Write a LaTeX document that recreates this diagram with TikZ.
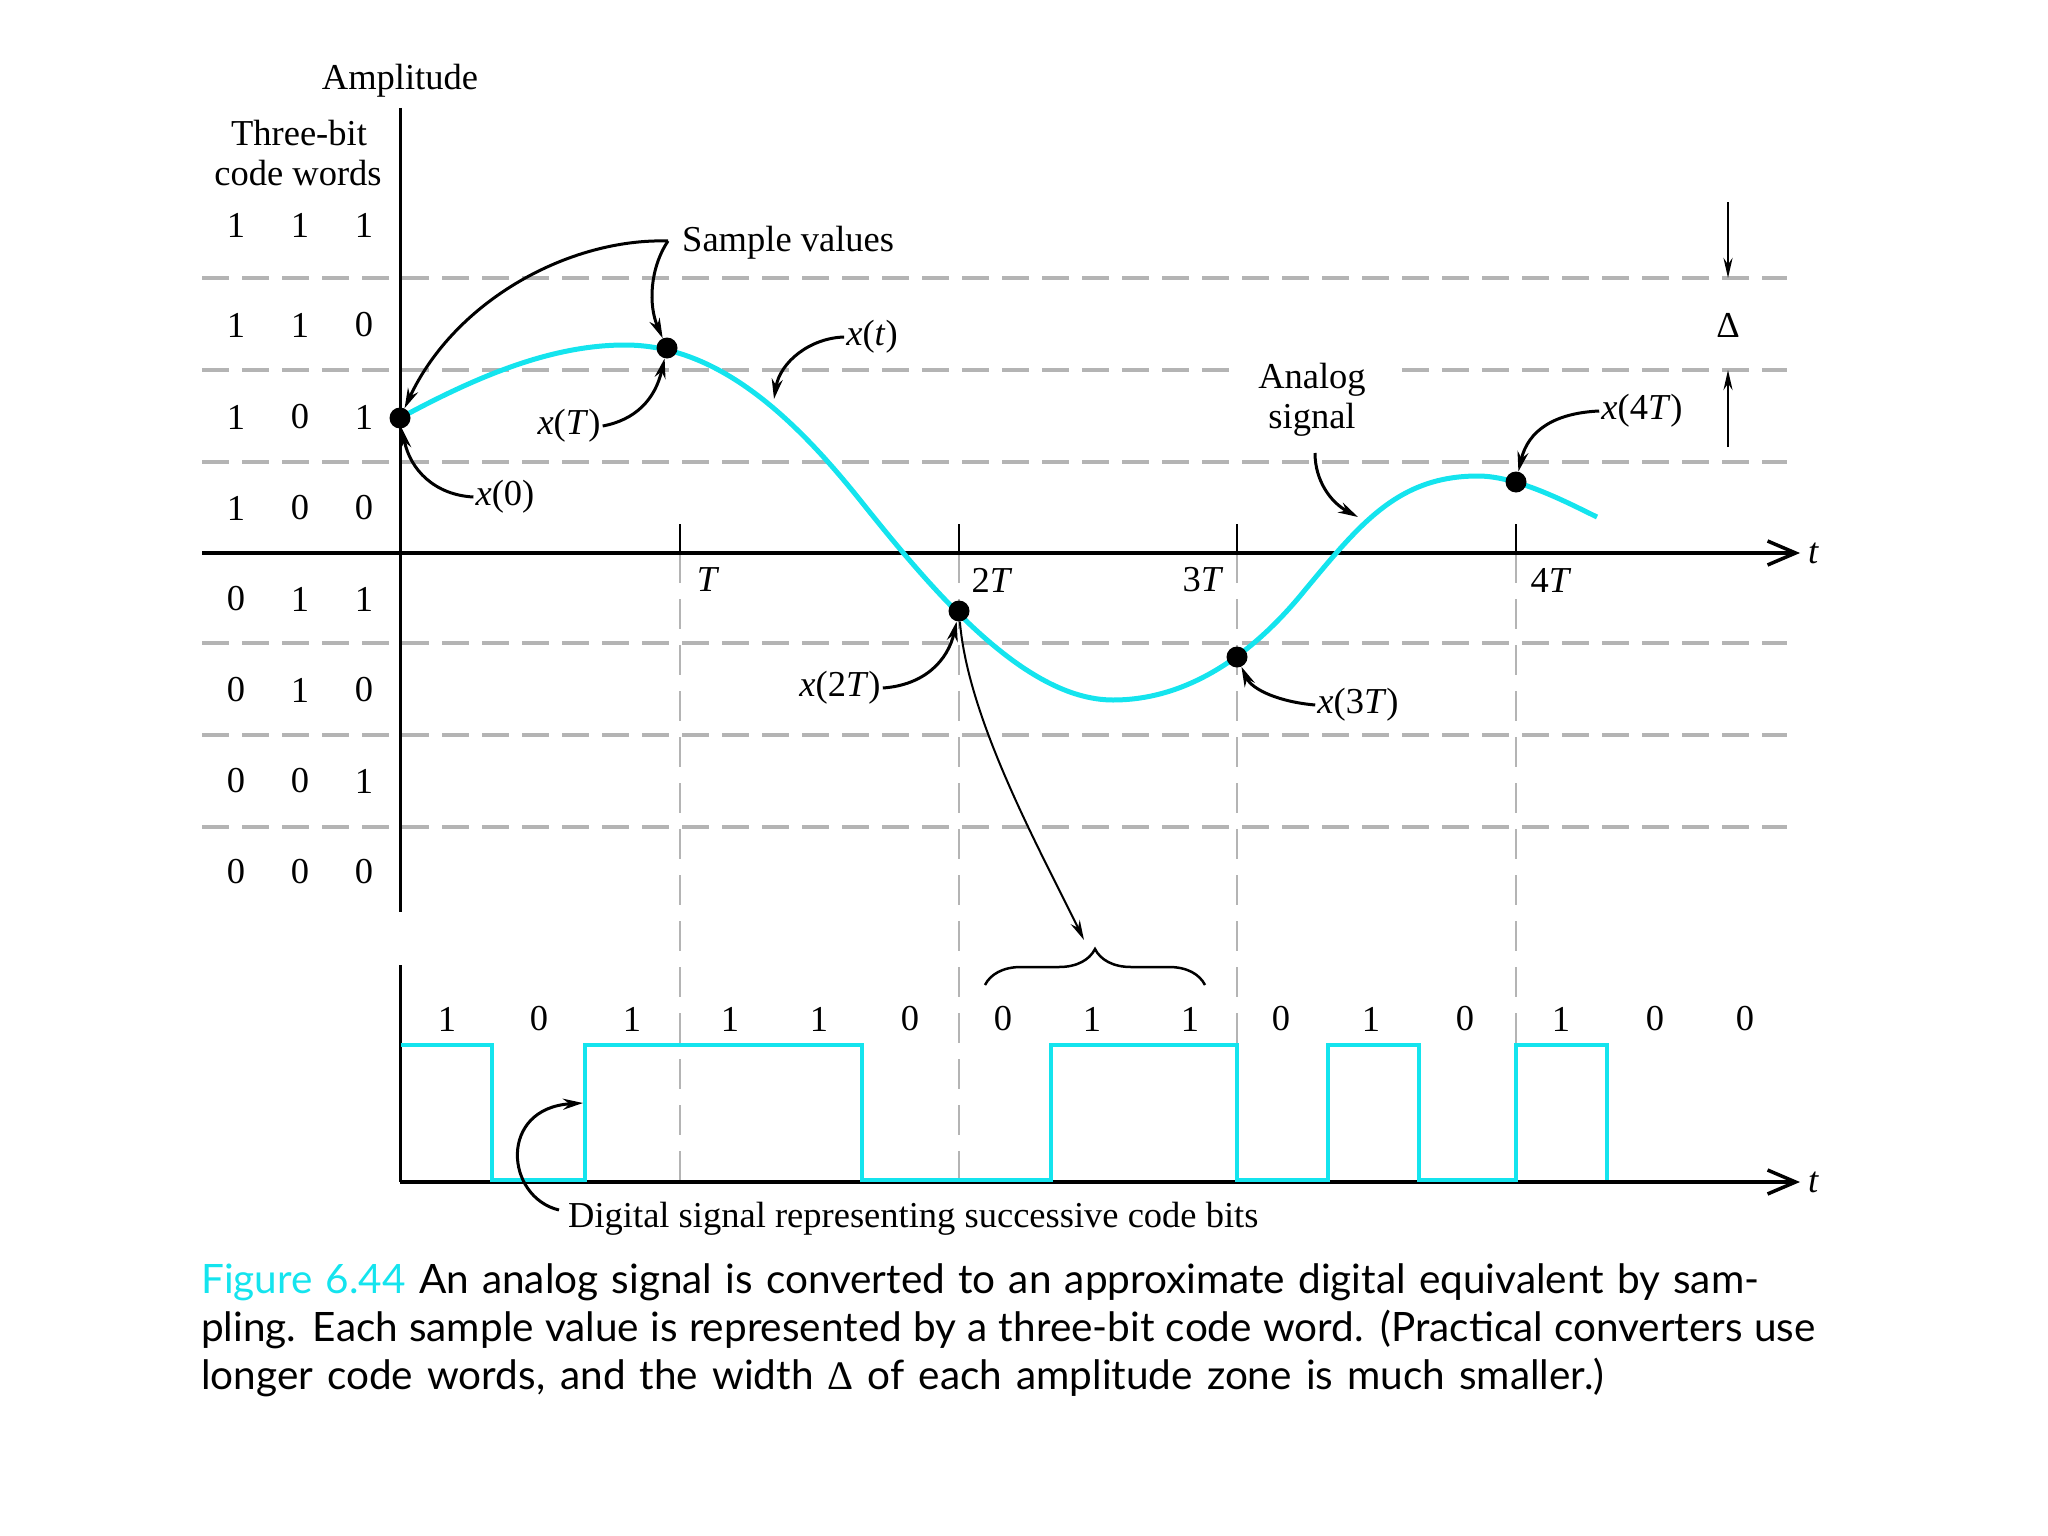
\documentclass[tikz,border=0pt]{standalone}
\usepackage{fontspec}
\setmainfont{Liberation Serif}
\newfontfamily\capfont{Lato}
\usetikzlibrary{arrows.meta,decorations.pathreplacing}
\definecolor{sig}{RGB}{20,228,238}
\definecolor{gridc}{RGB}{180,180,180}
\begin{document}
\begin{tikzpicture}[x=1pt,y=-1pt,
  lbl/.style={font=\fontsize{36.5}{42}\selectfont, inner sep=2pt},
  capl/.style={font=\capfont\fontsize{40.5}{48}\selectfont, inner sep=0pt},
  dot/.style={circle, fill=black, inner sep=0pt, minimum size=21pt},
  hgrid/.style={draw=gridc, line width=4pt, dash pattern=on 27pt off 13pt},
  vgrid/.style={draw=gridc, line width=2.5pt, dash pattern=on 30pt off 16pt},
  axisline/.style={line width=4pt, -{Straight Barb[length=28pt,width=24pt,line width=3.5pt]}},
  ann/.style={line width=3pt, -{Stealth[length=20pt,width=11pt]}},
  sigline/.style={draw=sig, line width=5pt},
  digline/.style={draw=sig, line width=3.5pt},
]
\useasboundingbox (0,0) rectangle (2048,1536);
% horizontal grid
\foreach \y in {278,370,462,643,735,827}
  \draw[hgrid] (202,\y) -- (1787,\y);
% vertical dashed lines
\foreach \x in {680,959,1237,1516}
  \draw[vgrid] (\x,553) -- (\x,1182);
% ticks
\foreach \x in {680,959,1237,1516}
  \draw[line width=2.5pt] (\x,524) -- (\x,553);
% axes
\coordinate (vtop) at (400,108);
\coordinate (vbot) at (400,912);
\draw[line width=3pt] (vtop) -- (vbot);
\coordinate (hleft) at (202,553);
\coordinate (hright) at (1800,553);
\draw[axisline] (hleft) -- (hright);
\node[lbl, anchor=west] (t1) at (1806,553) {\textit{t}};

% labels
\node[lbl] (amp) at (400,81) {Amplitude};
\node[lbl] (tb1) at (299,133) {Three-bit};
\node[lbl] (tb2) at (298,173) {code words};
\foreach \y/\a/\b/\c [count=\i] in {225/1/1/1,325/1/1/0,417/1/0/1,508/1/0/0,599/0/1/1,690/0/1/0,781/0/0/1,872/0/0/0}{
  \node[lbl] (cwa\i) at (236,\y) {\a};
  \node[lbl] (cwb\i) at (300,\y) {\b};
  \node[lbl] (cwc\i) at (364,\y) {\c};
}
\node[lbl] (lT) at (708,580) {\textit{T}};
\node[lbl] (l2T) at (992,580) {2\textit{T}};
\node[lbl] (l3T) at (1203,580) {3\textit{T}};
\node[lbl] (l4T) at (1551,580) {4\textit{T}};

% analog signal
\draw[sigline] (400,418) .. controls (475,377.5) and (550,345) .. (625,345)
  .. controls (715,345) and (790,412.5) .. (860,500)
  .. controls (930,587.5) and (1023,700) .. (1113,700)
  .. controls (1190,700) and (1255,652) .. (1305,590)
  .. controls (1360,524) and (1398,476) .. (1478,476)
  .. controls (1518,476) and (1570,504) .. (1597,517);

% sample dots
\node[dot] (d0) at (400,418) {};
\node[dot] (d1) at (667,348) {};
\node[dot] (d2) at (959,611) {};
\node[dot] (d3) at (1237,657) {};
\node[dot] (d4) at (1516,482) {};

% annotations
\node[lbl, anchor=west] (sv) at (680,243) {Sample values};
\coordinate (svs) at (668,241);
\draw[ann] (svs) .. controls (570,238) and (455,300) .. (d0);
\draw[ann] (svs) .. controls (650,268) and (648,305) .. (d1);

\node[lbl] (xt) at (872,337) {\textit{x}(\textit{t})};
\coordinate (xtp) at (774,399);
\draw[ann] (xt.west) .. controls (810,338) and (780,362) .. (xtp);

\node[lbl] (x1) at (569,426) {\textit{x}(\textit{T})};
\draw[ann] (x1.east) .. controls (635,420) and (655,400) .. (d1);

\node[lbl] (x0) at (505,497) {\textit{x}(0)};
\draw[ann] (x0.west) .. controls (435,495) and (410,470) .. (d0);

\node[lbl] (x2) at (840,688) {\textit{x}(2\textit{T})};
\draw[ann] (x2.east) .. controls (925,685) and (948,660) .. (d2);

\node[lbl] (x3) at (1358,705) {\textit{x}(3\textit{T})};
\draw[ann] (x3.west) .. controls (1280,702) and (1252,690) .. (d3);

\node[lbl] (x4) at (1642,411) {\textit{x}(4\textit{T})};
\draw[ann] (x4.west) .. controls (1555,413) and (1528,430) .. (d4);

\node[lbl, align=center, fill=white, inner xsep=26pt, inner ysep=3pt] (as) at (1312,400) {Analog\\[-2pt]signal};
\coordinate (asp) at (1358,517);
\draw[ann] (1315,453) .. controls (1315,480) and (1330,502) .. (asp);

% delta
\coordinate (da1) at (1728,202);
\coordinate (da2) at (1728,278);
\coordinate (db1) at (1728,447);
\coordinate (db2) at (1728,370);
\draw[line width=2.5pt, -{Stealth[length=20pt,width=9pt]}] (da1) -- (da2);
\draw[line width=2.5pt, -{Stealth[length=20pt,width=9pt]}] (db1) -- (db2);
\node[lbl] (delta) at (1728,325) {Δ};

% brace and long arrow
\draw[line width=2.5pt, decorate, decoration={brace, amplitude=36pt}] (985,985) -- (1205,985);
\coordinate (bt) at (1084,940);
\draw[line width=2pt, -{Stealth[length=20pt,width=10pt]}] (d2) .. controls (968,720) and (1040,850) .. (bt);

% digital part
\coordinate (dtop) at (400,965);
\coordinate (dbot) at (400,1182);
\draw[line width=3pt] (dtop) -- (dbot);
\coordinate (dright) at (1800,1182);
\draw[axisline] (dbot) -- (dright);
\node[lbl, anchor=west] (t2) at (1806,1182) {\textit{t}};
\foreach \x/\b [count=\i] in {447/1,539/0,632/1,730/1,819/1,910/0,1003/0,1092/1,1190/1,1281/0,1371/1,1465/0,1561/1,1655/0,1745/0}
  \node[lbl] (bit\i) at (\x,1019) {\b};
\draw[digline] (401,1045) -- (492,1045) -- (492,1180) -- (585,1180) -- (585,1045) -- (862,1045) -- (862,1180) -- (1051,1180) -- (1051,1045) -- (1237,1045) -- (1237,1180) -- (1328,1180) -- (1328,1045) -- (1419,1045) -- (1419,1180) -- (1516,1180) -- (1516,1045) -- (1607,1045) -- (1607,1180);

\node[lbl, anchor=west] (dig) at (566,1219) {Digital signal representing successive code bits};
\coordinate (digp) at (583,1103);
\draw[ann] (559,1210) .. controls (505,1197) and (498,1108) .. (digp);

% caption
\node[capl, anchor=base west] (cap1) at (201,1293) {\hbox to 1558pt{{\color{sig}Figure 6.44} An analog signal is converted to an approximate digital equivalent by sam-}};
\node[capl, anchor=base west] (cap2) at (201,1341) {\hbox to 1614pt{pling. Each sample value is represented by a three-bit code word. (Practical converters use}};
\node[capl, anchor=base west] (cap3) at (201,1389) {\hbox to 1403pt{longer code words, and the width {\rmfamily Δ} of each amplitude zone is much smaller.)}};
\end{tikzpicture}
\end{document}
